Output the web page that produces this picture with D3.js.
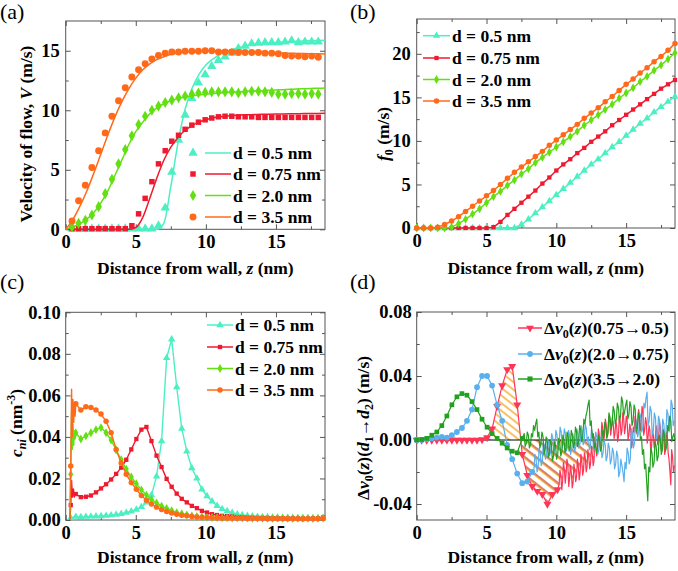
<!DOCTYPE html>
<html><head><meta charset="utf-8">
<script src="https://cdnjs.cloudflare.com/ajax/libs/d3/7.8.5/d3.min.js"></script>
<style>body{margin:0;background:#fff}</style>
</head><body>
<svg id="c" width="678" height="571"></svg>
<script>
// ---------- DATA ----------
const legendLabels = ["d = 0.5 nm", "d = 0.75 nm", "d = 2.0 nm", "d = 3.5 nm"];
const legendD = ["(0.75\u21920.5)", "(2.0\u21920.75)", "(3.5\u21922.0)"];
const xMajor = [0, 5, 10, 15], xMinor = [2.5, 7.5, 12.5, 17.5];
const yMajorA = [0, 5, 10, 15], yMinorA = [2.5, 7.5, 12.5];
const yMajorB = [0, 5, 10, 15, 20], yMinorB = [2.5, 7.5, 12.5, 17.5, 22.5];
const yMajorC = [0, 0.02, 0.04, 0.06, 0.08, 0.10], yMinorC = [0.01, 0.03, 0.05, 0.07, 0.09];
const yMajorD = [-0.04, 0, 0.04, 0.08], yMinorD = [-0.02, 0.02, 0.06];

// panel (a): simulated points
const zA = [0.45,0.92,1.4,1.87,2.35,2.82,3.3,3.77,4.25,4.72,5.2,5.67,6.15,6.62,7.1,7.57,8.05,8.52,9.0,9.47,9.95,10.42,10.9,11.37,11.85,12.32,12.8,13.27,13.75,14.22,14.7,15.17,15.65,16.12,16.6,17.07,17.55,18.02];
const vA_05 = [0.05,0.05,0.05,0.05,0.05,0.05,0.05,0.05,0.05,0.05,0.05,0.05,0.05,0.3,1.8,4.8,7.5,9.6,11.0,12.3,13.0,13.7,14.2,14.5,14.8,15.2,15.4,15.6,15.65,15.7,15.7,15.7,15.75,15.85,15.7,15.75,15.75,15.75];
const vA_075 = [0.05,0.05,0.05,0.05,0.05,0.05,0.05,0.05,0.05,0.3,1.3,2.6,4.0,5.5,6.6,7.4,7.9,8.4,8.75,9.0,9.2,9.35,9.45,9.5,9.5,9.45,9.45,9.45,9.4,9.4,9.4,9.4,9.4,9.4,9.4,9.4,9.4,9.4];
const vA_20 = [0.2,0.5,0.75,1.2,1.9,3.0,4.2,5.5,6.7,7.85,8.8,9.5,10.0,10.35,10.65,10.85,11.05,11.2,11.35,11.45,11.5,11.55,11.55,11.55,11.55,11.45,11.55,11.6,11.6,11.55,11.5,11.35,11.35,11.4,11.4,11.35,11.4,11.35];
const vA_35 = [0.7,2.4,3.7,5.2,6.6,8.1,9.5,10.8,11.9,12.8,13.4,13.9,14.3,14.6,14.8,14.9,14.9,14.95,14.95,14.95,15.0,15.0,14.9,14.9,14.9,14.85,14.85,14.85,14.85,14.8,14.8,14.75,14.6,14.55,14.55,14.5,14.55,14.45];
// shared 0.5 nm grid (fit lines in (a), points in (b))
const zGrid = [0,0.5,1,1.5,2,2.5,3,3.5,4,4.5,5,5.5,6,6.5,7,7.5,8,8.5,9,9.5,10,10.5,11,11.5,12,12.5,13,13.5,14,14.5,15,15.5,16,16.5,17,17.5,18,18.5];
const fitA_05 = [0,0,0,0,0,0,0,0,0,0,0,0,0,0,0.5,3.6,7.2,10.0,11.8,13.0,13.8,14.3,14.7,14.95,15.15,15.3,15.45,15.55,15.6,15.65,15.7,15.73,15.76,15.79,15.82,15.84,15.86,15.88];
const fitA_075 = [0,0,0,0,0,0,0,0,0,0,0.15,1.0,2.6,4.3,5.8,6.9,7.7,8.3,8.7,9.0,9.2,9.35,9.45,9.52,9.57,9.6,9.62,9.64,9.66,9.67,9.68,9.69,9.7,9.71,9.72,9.72,9.73,9.74];
const fitA_20 = [0,0.2,0.45,0.85,1.4,2.2,3.2,4.5,5.8,7.1,8.2,9.0,9.7,10.2,10.55,10.8,11.0,11.1,11.2,11.28,11.35,11.4,11.45,11.5,11.53,11.56,11.59,11.62,11.65,11.68,11.7,11.73,11.76,11.79,11.81,11.83,11.85,11.87];
const fitA_35 = [0,0.8,1.9,3.2,4.7,6.3,7.9,9.4,10.7,11.8,12.7,13.4,13.9,14.25,14.5,14.7,14.8,14.9,14.95,15.0,15.0,15.0,15.0,14.98,14.96,14.94,14.92,14.9,14.88,14.86,14.84,14.82,14.8,14.78,14.76,14.75,14.74,14.72];

// panel (b)
const vB_05 = [0,0,0,0,0,0,0,0,0,0,0,0,0,0,0,0.4,1.0,1.7,2.4,3.1,3.8,4.5,5.2,5.9,6.6,7.3,7.9,8.6,9.3,9.9,10.6,11.3,12.0,12.6,13.3,13.9,14.5,15.1];
const vB_075 = [0,0,0,0,0,0,0,0,0,0,0,0.1,0.7,1.5,2.2,2.9,3.6,4.3,5.1,5.8,6.6,7.3,7.9,8.6,9.2,9.9,10.5,11.1,11.8,12.4,13.0,13.6,14.2,14.8,15.4,16.0,16.5,17.0];
const vB_20 = [0,0,0,0,0,0.1,0.5,1.0,1.6,2.2,2.9,3.6,4.2,4.9,5.5,6.2,6.8,7.5,8.1,8.7,9.3,9.9,10.5,11.1,11.8,12.4,13.0,13.6,14.2,14.9,15.5,16.1,16.8,17.4,18.1,18.7,19.4,20.1];
const vB_35 = [0,0,0,0.1,0.4,0.8,1.3,1.9,2.5,3.1,3.7,4.3,5.0,5.7,6.4,7.0,7.6,8.2,8.8,9.5,10.1,10.7,11.3,11.9,12.6,13.2,13.8,14.5,15.1,15.8,16.5,17.1,17.8,18.4,19.1,19.7,20.4,21.2];

// panel (c)
const zC = [0.36,0.72,1.08,1.44,1.8,2.16,2.52,2.88,3.24,3.6,3.96,4.32,4.68,5.04,5.4,5.76,6.12,6.48,6.84,7.2,7.56,7.92,8.28,8.64,9.0,9.36,9.72,10.08,10.44,10.8,11.16,11.52,11.88,12.24,12.6,12.96,13.32,13.68,14.04,14.4,14.76,15.12,15.48,15.84,16.2,16.56,16.92,17.28,17.64,18.0,18.36];
const vC_05 = [0.001,0.0016,0.0015,0.0016,0.0017,0.0018,0.0019,0.0021,0.0023,0.0026,0.003,0.0035,0.0042,0.005,0.0063,0.0085,0.012,0.021,0.038,0.078,0.087,0.064,0.044,0.033,0.025,0.02,0.0147,0.0115,0.009,0.0068,0.0053,0.0043,0.0035,0.0028,0.0024,0.002,0.0018,0.0016,0.0015,0.0014,0.0013,0.0012,0.0012,0.0011,0.0011,0.001,0.001,0.001,0.001,0.0009,0.0009];
const vC_075 = [0.0072,0.0125,0.011,0.0112,0.0118,0.0133,0.0152,0.0172,0.0195,0.0222,0.0252,0.029,0.034,0.039,0.0435,0.0448,0.038,0.031,0.0255,0.0198,0.016,0.0127,0.0102,0.0085,0.0068,0.0057,0.0044,0.0036,0.0028,0.0024,0.002,0.0019,0.0017,0.0014,0.0013,0.0012,0.0011,0.001,0.001,0.001,0.0009,0.0009,0.0009,0.0008,0.0008,0.0008,0.0008,0.0007,0.0008,0.0009,0.0012];
const vC_20 = [0.022,0.042,0.039,0.0405,0.042,0.0435,0.0445,0.042,0.0385,0.0337,0.029,0.0245,0.0207,0.0175,0.0145,0.012,0.0099,0.0082,0.0067,0.0056,0.0045,0.0036,0.003,0.0025,0.002,0.0017,0.0015,0.0013,0.0012,0.0011,0.001,0.001,0.0009,0.001,0.0009,0.0009,0.0008,0.0009,0.0008,0.0008,0.0008,0.0009,0.0008,0.0008,0.0007,0.0008,0.0008,0.0008,0.0007,0.0008,0.0009];
const vC_35 = [0.026,0.056,0.053,0.0545,0.0542,0.053,0.051,0.0475,0.042,0.034,0.0275,0.022,0.018,0.0148,0.0118,0.0095,0.0077,0.0062,0.005,0.0041,0.0034,0.0028,0.0023,0.002,0.0017,0.0015,0.0013,0.0012,0.0011,0.001,0.0009,0.0009,0.0008,0.0008,0.0008,0.0007,0.0007,0.0007,0.0007,0.0006,0.0006,0.0006,0.0006,0.0006,0.0006,0.0006,0.0005,0.0006,0.0006,0.0006,0.0007];
// near-wall oscillations (line only)
const wallC_05 = [[0.3,0]];
const wallC_075 = [[0.3,0],[0.42,0.019],[0.48,0.011],[0.55,0.015],[0.62,0.011],[0.67,0.013]];
const wallC_20 = [[0.3,0],[0.42,0.052],[0.47,0.034],[0.52,0.046],[0.57,0.036],[0.62,0.043],[0.67,0.039]];
const wallC_35 = [[0.3,0],[0.42,0.063],[0.47,0.04],[0.52,0.058],[0.57,0.047],[0.62,0.056],[0.67,0.05]];

// panel (d)
const zD = [0,0.36,0.72,1.08,1.44,1.8,2.16,2.52,2.88,3.24,3.6,3.96,4.32,4.68,5.04,5.4,5.76,6.12,6.48,6.84,7.2,7.56,7.92,8.28,8.64,9.0,9.36,9.72,10.08];
const vD_red = [0,0,0,0,0,0,0,0,0,0,0,0,0,0.0003,0.0015,0.007,0.021,0.034,0.044,0.046,0.022,-0.009,-0.022,-0.029,-0.032,-0.034,-0.04,-0.034,-0.031];
const vD_blue = [0,0,0.0005,0.001,0.0015,0.002,0.0015,0.003,0.005,0.0075,0.012,0.019,0.033,0.04,0.04,0.034,0.022,0.012,-0.003,-0.012,-0.021,-0.027,-0.026,-0.02];
const vD_green = [0,0.0003,0.001,0.003,0.005,0.009,0.015,0.022,0.027,0.029,0.028,0.024,0.019,0.013,0.008,0.004,0.001,-0.002,-0.005,-0.007,-0.008,0.001];
const noiseD_red = [[10.2,-0.028],[10.26,-0.019],[10.32,-0.022],[10.39,-0.031],[10.45,-0.026],[10.51,-0.014],[10.57,-0.018],[10.64,-0.027],[10.7,-0.021],[10.76,-0.012],[10.82,-0.015],[10.89,-0.029],[10.95,-0.024],[11.01,-0.016],[11.07,-0.02],[11.14,-0.03],[11.2,-0.027],[11.26,-0.015],[11.32,-0.019],[11.39,-0.026],[11.45,-0.023],[11.51,-0.012],[11.57,-0.016],[11.64,-0.025],[11.7,-0.021],[11.76,-0.009],[11.82,-0.013],[11.89,-0.022],[11.95,-0.019],[12.01,-0.008],[12.07,-0.011],[12.14,-0.02],[12.2,-0.017],[12.26,-0.006],[12.32,-0.01],[12.39,-0.018],[12.45,-0.015],[12.51,-0.004],[12.57,-0.008],[12.64,-0.016],[12.7,-0.013],[12.76,0.002],[12.82,-0.002],[12.89,-0.01],[12.95,-0.006],[13.01,0.007],[13.07,0.004],[13.14,-0.004],[13.2,0.0],[13.26,0.011],[13.32,0.008],[13.39,-0.001],[13.45,0.003],[13.51,0.013],[13.57,0.01],[13.64,0.002],[13.7,0.006],[13.76,0.015],[13.82,0.012],[13.89,0.003],[13.95,0.007],[14.01,0.014],[14.07,0.011],[14.14,0.001],[14.2,0.004],[14.26,0.012],[14.32,0.009],[14.39,-0.001],[14.45,0.002],[14.51,0.015],[14.57,0.012],[14.64,0.003],[14.7,0.006],[14.76,0.017],[14.82,0.014],[14.89,0.004],[14.95,0.008],[15.01,0.015],[15.07,0.012],[15.14,0.0],[15.2,0.003],[15.26,0.01],[15.32,0.007],[15.39,-0.005],[15.45,-0.002],[15.51,0.008],[15.57,0.005],[15.64,0.015],[15.7,0.012],[15.76,0.004],[15.82,0.008],[15.89,0.019],[15.95,0.016],[16.01,0.006],[16.07,0.01],[16.14,0.021],[16.2,0.018],[16.26,0.003],[16.32,0.006],[16.39,0.014],[16.45,0.011],[16.51,-0.002],[16.57,0.002],[16.64,0.009],[16.7,0.006],[16.76,-0.007],[16.82,-0.004],[16.89,0.006],[16.95,0.003],[17.01,-0.005],[17.07,-0.002],[17.14,0.009],[17.2,0.006],[17.26,-0.003],[17.32,0.001],[17.39,0.011],[17.45,0.008],[17.51,-0.006],[17.57,-0.003],[17.64,0.007],[17.7,0.004],[17.76,-0.009],[17.82,-0.006],[17.89,0.005],[17.95,0.002],[18.01,-0.008],[18.07,-0.012],[18.14,-0.02],[18.2,-0.028],[18.26,-0.006],[18.32,-0.01],[18.39,-0.02],[18.45,-0.016]];
const noiseD_blue = [[8.4,-0.018],[8.47,-0.009],[8.55,-0.012],[8.62,-0.02],[8.7,-0.016],[8.77,-0.005],[8.85,-0.008],[8.92,-0.016],[9.0,-0.013],[9.07,-0.001],[9.15,-0.004],[9.22,-0.012],[9.3,-0.009],[9.37,0.001],[9.45,-0.002],[9.52,-0.01],[9.6,-0.007],[9.67,0.004],[9.75,0.001],[9.82,-0.008],[9.9,-0.005],[9.97,0.006],[10.05,0.003],[10.12,-0.006],[10.2,-0.003],[10.27,0.008],[10.35,0.005],[10.42,-0.005],[10.5,-0.002],[10.57,0.007],[10.65,0.004],[10.72,-0.007],[10.8,-0.004],[10.87,0.006],[10.95,0.003],[11.02,-0.009],[11.1,-0.006],[11.17,0.004],[11.25,0.001],[11.32,-0.007],[11.4,-0.004],[11.47,0.007],[11.55,0.004],[11.62,-0.005],[11.7,-0.002],[11.77,0.009],[11.85,0.006],[11.92,-0.003],[12.0,0.0],[12.07,0.01],[12.15,0.007],[12.22,-0.001],[12.3,0.002],[12.37,-0.006],[12.45,-0.003],[12.52,0.007],[12.6,0.004],[12.67,-0.007],[12.75,-0.004],[12.82,0.005],[12.9,0.002],[12.97,-0.009],[13.05,-0.006],[13.12,0.002],[13.2,-0.001],[13.27,-0.011],[13.35,-0.008],[13.42,0.0],[13.5,-0.003],[13.57,-0.013],[13.65,-0.01],[13.72,-0.002],[13.8,-0.005],[13.87,-0.015],[13.95,-0.012],[14.02,-0.005],[14.1,-0.008],[14.17,-0.018],[14.25,-0.015],[14.32,-0.007],[14.4,-0.01],[14.47,-0.023],[14.55,-0.02],[14.62,-0.012],[14.7,-0.016],[14.77,-0.02],[14.85,-0.026],[14.92,-0.014],[15.0,-0.018],[15.07,-0.005],[15.15,-0.008],[15.22,-0.015],[15.3,-0.012],[15.37,0.007],[15.45,0.004],[15.52,-0.005],[15.6,-0.002],[15.67,0.013],[15.75,0.01],[15.82,0.002],[15.9,0.005],[15.97,0.017],[16.05,0.014],[16.12,0.005],[16.2,0.008],[16.27,0.023],[16.35,0.02],[16.42,0.026],[16.5,0.03],[16.57,0.009],[16.65,0.012],[16.72,0.021],[16.8,0.018],[16.87,0.003],[16.95,0.006],[17.02,0.017],[17.1,0.014],[17.17,0.001],[17.25,0.004],[17.32,0.015],[17.4,0.012],[17.47,-0.003],[17.55,0.0],[17.62,0.013],[17.7,0.01],[17.77,0.001],[17.85,0.004],[17.92,0.019],[18.0,0.016],[18.07,0.005],[18.15,0.008],[18.22,0.025],[18.3,0.022],[18.37,0.009],[18.45,0.012]];
const noiseD_green = [[7.7,0.004],[7.77,-0.004],[7.85,-0.002],[7.92,0.005],[8.0,0.003],[8.07,-0.005],[8.15,-0.003],[8.22,0.004],[8.3,0.002],[8.37,0.009],[8.45,0.006],[8.52,0.01],[8.6,0.013],[8.67,0.002],[8.75,0.005],[8.82,-0.005],[8.9,-0.002],[8.97,0.005],[9.05,0.002],[9.12,-0.009],[9.2,-0.006],[9.27,0.002],[9.35,-0.001],[9.42,-0.011],[9.5,-0.008],[9.57,0.0],[9.65,-0.003],[9.72,-0.013],[9.8,-0.01],[9.87,-0.001],[9.95,-0.004],[10.02,-0.012],[10.1,-0.009],[10.17,0.001],[10.25,-0.002],[10.32,-0.01],[10.4,-0.007],[10.47,0.003],[10.55,0.0],[10.62,-0.008],[10.7,-0.005],[10.77,0.005],[10.85,0.002],[10.92,-0.007],[11.0,-0.004],[11.07,0.006],[11.15,0.003],[11.22,-0.005],[11.3,-0.002],[11.37,0.008],[11.45,0.005],[11.52,-0.004],[11.6,-0.001],[11.67,0.009],[11.75,0.006],[11.82,-0.001],[11.9,0.002],[11.97,0.013],[12.05,0.01],[12.12,0.015],[12.2,0.018],[12.27,0.022],[12.35,0.025],[12.42,0.009],[12.5,0.012],[12.57,0.001],[12.65,0.004],[12.72,-0.005],[12.8,-0.002],[12.87,-0.008],[12.95,-0.005],[13.02,0.003],[13.1,0.0],[13.17,-0.007],[13.25,-0.004],[13.32,0.006],[13.4,0.003],[13.47,0.011],[13.55,0.008],[13.62,0.001],[13.7,0.004],[13.77,0.017],[13.85,0.014],[13.92,0.007],[14.0,0.01],[14.07,0.021],[14.15,0.018],[14.22,0.01],[14.3,0.013],[14.37,0.023],[14.45,0.02],[14.52,0.012],[14.6,0.015],[14.67,0.027],[14.75,0.024],[14.82,0.015],[14.9,0.018],[14.97,0.022],[15.05,0.025],[15.12,0.013],[15.2,0.016],[15.27,0.024],[15.35,0.021],[15.42,0.009],[15.5,0.012],[15.57,0.022],[15.65,0.019],[15.72,0.005],[15.8,0.008],[15.87,0.017],[15.95,0.014],[16.02,0.0],[16.1,0.002],[16.17,-0.009],[16.25,-0.006],[16.32,-0.018],[16.4,-0.015],[16.47,-0.026],[16.55,-0.038],[16.62,-0.017],[16.7,-0.02],[16.77,-0.005],[16.85,-0.008],[16.92,-0.017],[17.0,-0.014],[17.07,-0.001],[17.15,-0.004],[17.22,-0.013],[17.3,-0.01],[17.37,0.003],[17.45,0.0],[17.52,-0.009],[17.6,-0.006],[17.67,0.006],[17.75,0.003],[17.82,-0.007],[17.9,-0.004],[17.97,0.009],[18.05,0.006],[18.12,0.015],[18.2,0.012],[18.27,-0.001],[18.35,0.002],[18.42,0.004],[18.5,0.0]];

// ---------- STYLE ----------
const FONT = '"Liberation Serif","Times New Roman",serif';
const FS = 17.5, TFS = 18.5;
const C = {cyan:"#4cefc2", red:"#f01a30", green:"#62e012", orange:"#ff6a1a",
           dred:"#ff3558", dblue:"#5ab0ec", dgreen:"#22a020", axis:"#555"};

const svg = d3.select("#c");
const defs = svg.append("defs");
const hy = defs.append("pattern").attr("id","hatchY").attr("patternUnits","userSpaceOnUse")
  .attr("width",10).attr("height",6).attr("patternTransform","rotate(38)");
hy.append("line").attr("x1",0).attr("x2",10).attr("y1",3).attr("y2",3).attr("stroke","#f5a623").attr("stroke-width",1.4);
const hr = defs.append("pattern").attr("id","hatchR").attr("patternUnits","userSpaceOnUse")
  .attr("width",10).attr("height",7).attr("patternTransform","rotate(38)");
hr.append("line").attr("x1",0).attr("x2",10).attr("y1",2).attr("y2",2).attr("stroke","#c0361e").attr("stroke-width",1.3);
hr.append("line").attr("x1",0).attr("x2",10).attr("y1",3.4).attr("y2",3.4).attr("stroke","#f7b733").attr("stroke-width",1);

function rich(t, parts) {
  let cur = 0;
  parts.forEach(p => {
    const target = p.sub ? 4 : p.sup ? -7 : 0;
    const ts = t.append("tspan").text(p.t).attr("dy", target - cur);
    cur = target;
    if (p.it) ts.attr("font-style", "italic");
    if (p.sub || p.sup) ts.attr("font-size", 12);
  });
}

function panel(o) {
  const x = d3.scaleLinear().domain([0, 18.5]).range([o.l, o.r]);
  const y = d3.scaleLinear().domain(o.yd).range([o.b, o.t]);
  const g = svg.append("g");
  const styleAxis = s => s.attr("font-family", FONT).attr("font-size", TFS).attr("font-weight", "bold")
     .call(a => a.select(".domain").remove())
     .call(a => a.selectAll(".tick line").attr("stroke", C.axis))
     .call(a => a.selectAll(".tick text").attr("fill", "#000"));
  g.append("g").attr("transform", `translate(0,${o.b})`)
    .call(d3.axisBottom(x).tickValues(xMajor).tickSize(-5).tickPadding(5.5).tickFormat(d3.format("d"))).call(styleAxis);
  g.append("g").attr("transform", `translate(0,${o.b})`)
    .call(d3.axisBottom(x).tickValues(xMinor).tickSize(-3).tickFormat("")).call(styleAxis);
  g.append("g").attr("transform", `translate(0,${o.t})`)
    .call(d3.axisTop(x).tickValues(xMajor).tickSize(-5).tickFormat("")).call(styleAxis);
  g.append("g").attr("transform", `translate(0,${o.t})`)
    .call(d3.axisTop(x).tickValues(xMinor).tickSize(-3).tickFormat("")).call(styleAxis);
  g.append("g").attr("transform", `translate(${o.l},0)`)
    .call(d3.axisLeft(y).tickValues(o.yMajor).tickSize(-5).tickPadding(o.yPad).tickFormat(o.yfmt)).call(styleAxis);
  g.append("g").attr("transform", `translate(${o.l},0)`)
    .call(d3.axisLeft(y).tickValues(o.yMinor).tickSize(-3).tickFormat("")).call(styleAxis);
  g.append("g").attr("transform", `translate(${o.r},0)`)
    .call(d3.axisRight(y).tickValues(o.yMajor).tickSize(-5).tickFormat("")).call(styleAxis);
  g.append("g").attr("transform", `translate(${o.r},0)`)
    .call(d3.axisRight(y).tickValues(o.yMinor).tickSize(-3).tickFormat("")).call(styleAxis);
  g.append("rect").attr("x", o.l).attr("y", o.t).attr("width", o.r - o.l).attr("height", o.b - o.t)
    .attr("fill", "none").attr("stroke", C.axis).attr("stroke-width", 1);
  const xl = g.append("text").attr("x", (o.l + o.r) / 2).attr("y", o.xlY).attr("text-anchor", "middle")
    .attr("font-family", FONT).attr("font-size", FS).attr("font-weight", "bold");
  rich(xl, [{t:"Distance from wall, "}, {t:"z", it:true}, {t:" (nm)"}]);
  const yl = g.append("text").attr("transform", `translate(${o.ylX},${o.ylY}) rotate(-90)`).attr("text-anchor", "middle")
    .attr("font-family", FONT).attr("font-size", FS).attr("font-weight", "bold");
  rich(yl, o.ylabel);
  g.append("text").attr("x", o.tagX).attr("y", o.tagY).attr("font-family", FONT).attr("font-size", 22).text(o.tag);
  return {g, x, y};
}

const sym = {
  tri: d3.symbol().type(d3.symbolTriangle),
  sq: d3.symbol().type(d3.symbolSquare),
  dia: d3.symbol().type(d3.symbolDiamond),
  cir: d3.symbol().type(d3.symbolCircle)
};
function marks(g, pts, x, y, type, size, color, rot) {
  g.append("g").selectAll("path").data(pts).join("path")
    .attr("d", sym[type].size(size)())
    .attr("transform", d => `translate(${x(d[0])},${y(d[1])})${rot ? " rotate(180)" : ""}`)
    .attr("fill", color);
}
function line(g, pts, x, y, color, w, curve) {
  g.append("path").datum(pts)
    .attr("d", d3.line().x(d => x(d[0])).y(d => y(d[1])).curve(curve || d3.curveLinear))
    .attr("fill", "none").attr("stroke", color).attr("stroke-width", w).attr("stroke-linejoin", "round");
}
const zip = (zs, vs) => vs.map((v, i) => [zs[i], v]);

const styles = [
  {c: C.cyan, s: "tri", sz: 38}, {c: C.red, s: "sq", sz: 30},
  {c: C.green, s: "dia", sz: 36}, {c: C.orange, s: "cir", sz: 38}
];

// ---------- (a) ----------
{
  const P = panel({l:65.7, r:325, t:21, b:229.3, yd:[0,17.5], yMajor:yMajorA, yMinor:yMinorA, yPad:6,
    yfmt:d3.format("d"), xlY:274, ylX:32, ylY:134,
    ylabel:[{t:"Velocity of flow, "}, {t:"V", it:true}, {t:" (m/s)"}], tag:"(a)", tagX:0, tagY:19});
  const fits = [fitA_05, fitA_075, fitA_20, fitA_35];
  const pts = [vA_05, vA_075, vA_20, vA_35];
  fits.forEach((f, i) => {
    marks(P.g, zip(zA, pts[i]), P.x, P.y, styles[i].s, styles[i].sz, styles[i].c);
    line(P.g, zip(zGrid, f), P.x, P.y, styles[i].c, 1.5, d3.curveMonotoneX);
  });
  const rows = [153, 174, 195.5, 217];
  legendLabels.forEach((lab, i) => {
    const yy = rows[i];
    P.g.append("path").attr("d", sym[styles[i].s].size(styles[i].sz)()).attr("transform", `translate(193,${yy})`).attr("fill", styles[i].c);
    P.g.append("line").attr("x1", 205).attr("x2", 231).attr("y1", yy).attr("y2", yy).attr("stroke", styles[i].c).attr("stroke-width", 1.5);
    P.g.append("text").attr("x", 233).attr("y", yy + 6).attr("font-family", FONT).attr("font-size", FS).attr("font-weight", "bold").text(lab);
  });
}

// ---------- (b) ----------
{
  const P = panel({l:416.7, r:675, t:19, b:228, yd:[0,24], yMajor:yMajorB, yMinor:yMinorB, yPad:6,
    yfmt:d3.format("d"), xlY:274, ylX:389, ylY:134,
    ylabel:[{t:"f", it:true}, {t:"0", sub:true}, {t:" (m/s)"}], tag:"(b)", tagX:350, tagY:19});
  const ser = [vB_05, vB_075, vB_20, vB_35];
  ser.forEach((v, i) => {
    const d = zip(zGrid, v);
    line(P.g, d, P.x, P.y, styles[i].c, 1.5);
    marks(P.g, d, P.x, P.y, styles[i].s, styles[i].sz * 0.62, styles[i].c);
  });
  const rows = [35.7, 58, 79.5, 101];
  legendLabels.forEach((lab, i) => {
    const yy = rows[i];
    P.g.append("line").attr("x1", 423).attr("x2", 450).attr("y1", yy).attr("y2", yy).attr("stroke", styles[i].c).attr("stroke-width", 1.5);
    P.g.append("path").attr("d", sym[styles[i].s].size(styles[i].sz * 0.62)()).attr("transform", `translate(436.5,${yy})`).attr("fill", styles[i].c);
    P.g.append("text").attr("x", 452).attr("y", yy + 6).attr("font-family", FONT).attr("font-size", FS).attr("font-weight", "bold").text(lab);
  });
}

// ---------- (c) ----------
{
  const P = panel({l:65.7, r:325, t:312.3, b:520, yd:[0,0.10], yMajor:yMajorC, yMinor:yMinorC, yPad:5,
    yfmt:d => d.toFixed(2), xlY:563, ylX:22, ylY:423,
    ylabel:[{t:"c", it:true}, {t:"ni", sub:true, it:true}, {t:" (nm"}, {t:"-3", sup:true}, {t:")"}], tag:"(c)", tagX:0, tagY:289});
  const ser = [vC_05, vC_075, vC_20, vC_35];
  const walls = [wallC_05, wallC_075, wallC_20, wallC_35];
  ser.forEach((v, i) => {
    const d = zip(zC, v);
    const full = walls[i].concat(d).sort((a, b) => a[0] - b[0]);
    line(P.g, full, P.x, P.y, styles[i].c, 1.4);
    marks(P.g, d, P.x, P.y, styles[i].s, styles[i].sz * 0.62, styles[i].c);
  });
  const rows = [325, 347, 368.5, 390];
  legendLabels.forEach((lab, i) => {
    const yy = rows[i];
    P.g.append("line").attr("x1", 207).attr("x2", 233).attr("y1", yy).attr("y2", yy).attr("stroke", styles[i].c).attr("stroke-width", 1.5);
    P.g.append("path").attr("d", sym[styles[i].s].size(styles[i].sz * 0.62)()).attr("transform", `translate(220,${yy})`).attr("fill", styles[i].c);
    P.g.append("text").attr("x", 235).attr("y", yy + 6).attr("font-family", FONT).attr("font-size", FS).attr("font-weight", "bold").text(lab);
  });
}

// ---------- (d) ----------
{
  const P = panel({l:416.7, r:675, t:312, b:520, yd:[-0.05,0.08], yMajor:yMajorD, yMinor:yMinorD, yPad:5,
    yfmt:d => d.toFixed(2), xlY:563, ylX:369, ylY:428,
    ylabel:[{t:"\u0394"}, {t:"v", it:true}, {t:"0", sub:true}, {t:"("}, {t:"z", it:true}, {t:")("},
            {t:"d", it:true}, {t:"1", sub:true}, {t:"\u2192"}, {t:"d", it:true}, {t:"2", sub:true}, {t:") (m/s)"}],
    tag:"(d)", tagX:350, tagY:289});
  const red = zip(zD, vD_red).concat(noiseD_red);
  const blue = zip(zD, vD_blue).concat(noiseD_blue);
  const green = zip(zD, vD_green).concat(noiseD_green);
  const area = d3.area().x(d => P.x(d[0])).y0(P.y(0)).y1(d => P.y(d[1]));
  const cp1 = defs.append("clipPath").attr("id", "clipUp");
  cp1.append("rect").attr("x", P.x(4.6)).attr("y", P.y(0.08)).attr("width", P.x(7.46) - P.x(4.6)).attr("height", P.y(0) - P.y(0.08));
  const cp2 = defs.append("clipPath").attr("id", "clipDn");
  cp2.append("rect").attr("x", P.x(7.46)).attr("y", P.y(0)).attr("width", P.x(12.85) - P.x(7.46)).attr("height", P.y(-0.05) - P.y(0));
  P.g.append("path").datum(red).attr("d", area).attr("fill", "url(#hatchY)").attr("clip-path", "url(#clipUp)");
  P.g.append("path").datum(red).attr("d", area).attr("fill", "url(#hatchR)").attr("clip-path", "url(#clipDn)");
  P.g.append("line").attr("x1", P.x(0)).attr("x2", P.x(18.5)).attr("y1", P.y(0)).attr("y2", P.y(0)).attr("stroke", "#000").attr("stroke-width", 1);
  line(P.g, red, P.x, P.y, C.dred, 1.2);
  marks(P.g, zip(zD, vD_red), P.x, P.y, "tri", 28, C.dred, true);
  line(P.g, blue, P.x, P.y, C.dblue, 1.2);
  marks(P.g, zip(zD, vD_blue), P.x, P.y, "cir", 26, C.dblue);
  line(P.g, green, P.x, P.y, C.dgreen, 1.2);
  marks(P.g, zip(zD, vD_green), P.x, P.y, "sq", 22, C.dgreen);
  const cols = [C.dred, C.dblue, C.dgreen], shp = ["tri", "cir", "sq"], rows = [328, 354, 379];
  legendD.forEach((lab, i) => {
    const yy = rows[i];
    P.g.append("line").attr("x1", 518).attr("x2", 542).attr("y1", yy).attr("y2", yy).attr("stroke", cols[i]).attr("stroke-width", 1.5);
    P.g.append("path").attr("d", sym[shp[i]].size(26)()).attr("transform", `translate(530,${yy})${i === 0 ? " rotate(180)" : ""}`).attr("fill", cols[i]);
    const t = P.g.append("text").attr("x", 544).attr("y", yy + 6).attr("font-family", FONT).attr("font-size", FS).attr("font-weight", "bold");
    rich(t, [{t:"\u0394"}, {t:"v", it:true}, {t:"0", sub:true}, {t:"("}, {t:"z", it:true}, {t:")" + lab}]);
  });
}
</script>
</body></html>
